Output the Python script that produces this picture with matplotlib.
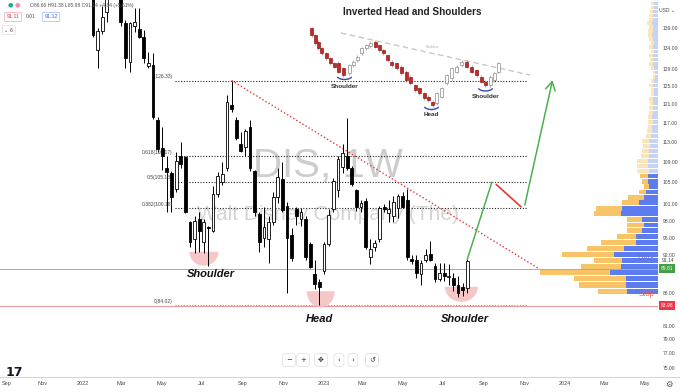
import numpy as np
import pandas as pd
import matplotlib
matplotlib.use("Agg")
import matplotlib.pyplot as plt
import matplotlib.dates as mdates
from matplotlib.ticker import FixedLocator, FixedFormatter, NullLocator
from matplotlib.patches import Polygon, Arc
from matplotlib.transforms import IdentityTransform

plt.rcParams["font.family"] = ["Liberation Sans", "DejaVu Sans"]

W, H = 680, 392

# DIS weekly candles, week of 17 Jan 2022 .. week of 7 Aug 2023
opens = [148.0, 133.5, 138.2, 143.0, 152.0, 148.0, 148.5, 140.2, 130.6, 139.5,
         138.7, 136.8, 129.8, 130.0, 117.7, 111.7, 107.7, 106.9, 103.7, 110.1,
         109.9, 97.7, 94.7, 98.2, 94.3, 96.8, 96.1, 102.8, 105.0, 107.7,
         120.9, 117.7, 112.5, 112.0, 116.2, 107.3, 99.2, 94.9, 94.7, 97.8,
         102.3, 105.6, 100.6, 95.5, 100.0, 98.2, 98.2, 93.9, 89.0, 87.6,
         89.5, 93.9, 100.1, 103.5, 108.0, 110.1, 107.7, 103.5, 100.5, 101.5,
         91.8, 93.4, 94.7, 100.4, 99.4, 98.8, 100.3, 102.5, 101.8, 91.4,
         91.3, 89.0, 91.2, 92.3, 90.2, 88.1, 89.1, 88.4, 88.3, 87.2,
         86.9, 86.66]
highs = [149.5, 139.0, 144.7, 157.0, 156.0, 150.0, 150.0, 141.0, 140.5, 144.2,
         144.0, 138.5, 133.0, 132.8, 118.2, 116.2, 110.1, 107.3, 110.9, 113.0,
         110.1, 98.0, 98.8, 99.6, 98.2, 97.0, 104.3, 107.0, 108.9, 123.1,
         126.33, 118.2, 115.0, 115.6, 117.5, 107.5, 99.6, 100.4, 98.8, 103.2,
         107.7, 109.0, 101.4, 96.6, 100.4, 100.2, 98.8, 94.3, 91.3, 88.1,
         94.3, 100.0, 105.8, 110.1, 112.5, 118.0, 108.2, 103.8, 101.8, 102.1,
         94.7, 94.6, 100.6, 100.9, 101.8, 102.5, 102.8, 103.2, 103.7, 92.0,
         92.0, 91.3, 93.0, 94.4, 90.8, 90.8, 90.8, 90.5, 89.1, 88.6,
         87.5, 91.38]
lows = [136.8, 129.3, 137.5, 140.5, 147.5, 146.8, 139.5, 129.3, 128.4, 138.0,
        136.5, 130.4, 129.3, 117.8, 110.9, 107.5, 99.6, 99.6, 103.2, 107.7,
        99.4, 93.4, 92.4, 92.6, 92.4, 90.2, 96.0, 102.3, 104.6, 107.3,
        119.4, 113.5, 110.9, 110.1, 107.3, 98.8, 92.6, 93.4, 90.8, 97.2,
        101.2, 99.6, 86.0, 91.0, 97.2, 97.0, 91.3, 89.9, 86.5, 84.02,
        88.9, 93.5, 99.6, 102.2, 106.8, 107.5, 104.3, 99.7, 99.5, 93.1,
        90.5, 92.8, 94.3, 99.6, 97.7, 97.7, 98.5, 100.2, 91.3, 90.5,
        88.3, 87.2, 90.9, 91.0, 87.6, 87.8, 87.8, 87.2, 86.2, 85.3,
        85.5, 85.98]
closes = [137.2, 138.2, 141.8, 152.0, 148.5, 148.5, 140.5, 131.7, 140.2, 140.5,
          136.8, 131.7, 130.3, 118.2, 111.5, 110.1, 107.0, 102.3, 109.1, 108.5,
          99.6, 94.3, 97.9, 96.1, 97.7, 96.6, 102.8, 106.2, 106.6, 121.4,
          119.9, 113.9, 111.1, 115.2, 107.7, 99.6, 94.3, 96.9, 97.8, 102.2,
          106.0, 99.8, 94.9, 91.6, 98.8, 99.6, 91.8, 90.1, 87.3, 86.9,
          93.9, 99.0, 105.3, 109.5, 110.8, 107.7, 104.8, 100.5, 101.2, 93.4,
          93.0, 94.1, 100.2, 100.1, 100.0, 101.4, 102.5, 100.5, 91.8, 91.0,
          89.1, 90.8, 92.0, 91.3, 88.1, 89.1, 88.6, 88.6, 87.2, 85.9,
          86.4, 91.14]
weeks = pd.date_range("2022-01-17", periods=len(opens), freq="W-MON")

# visible range volume profile (price row, up volume, down volume)
vp_price = [86.2, 87.2, 88.2, 89.2, 90.2, 91.2, 92.2, 93.2, 94.2, 95.2,
            96.2, 97.2, 98.2, 99.2, 100.2, 101.2, 102.2, 103.2, 104.2, 105.2,
            106.2, 107.2, 108.2, 109.2, 110.2, 111.2, 112.2, 113.2, 114.2, 115.2,
            116.2, 117.2, 118.2, 119.2, 120.2, 121.2, 122.2, 123.2, 124.2, 125.2,
            126.2, 127.2, 128.2, 129.2, 130.2, 131.2, 132.2, 133.2, 134.2, 135.2,
            136.2, 137.2, 138.2, 139.2, 140.2, 141.2, 142.2, 143.2, 144.2, 145.2]
vp_up = [31, 32, 32, 48, 37, 36, 44, 34, 22, 22,
         16, 14, 16, 37, 36, 19, 14, 12, 9, 10,
         10, 9, 10, 10, 9, 9, 8, 9, 7, 6,
         6, 5, 6, 5, 5, 5, 5, 4, 4, 5,
         4, 3, 3, 4, 5, 5, 5, 4, 5, 4,
         5, 6, 5, 5, 6, 5, 5, 5, 4, 4]
vp_down = [29, 47, 52, 70, 40, 28, 52, 37, 35, 19,
           15, 17, 15, 27, 26, 17, 16, 7, 5, 6,
           8, 12, 11, 11, 8, 7, 7, 7, 5, 5,
           4, 5, 4, 4, 4, 3, 4, 3, 3, 4,
           3, 2, 2, 3, 4, 3, 4, 3, 4, 3,
           4, 4, 5, 4, 5, 4, 4, 3, 3, 3]
value_area_top = 107.0

price_ticks = [139, 134, 129, 125, 121, 117, 113, 109, 105, 101, 98, 95, 92,
               86, 81, 79, 77, 75]
month_ticks = ["2021-09-01", "2021-11-01", "2022-01-01", "2022-03-01", "2022-05-01",
               "2022-07-01", "2022-09-01", "2022-11-01", "2023-01-01", "2023-03-01",
               "2023-05-01", "2023-07-01", "2023-09-01", "2023-11-01", "2024-01-01",
               "2024-03-01", "2024-05-01"]
month_labels = ["Sep", "Nov", "2022", "Mar", "May", "Jul", "Sep", "Nov", "2023",
                "Mar", "May", "Jul", "Sep", "Nov", "2024", "Mar", "May"]

fib_levels = ["1", "0.618", "0.5", "0.382", "0"]
fib_prices = [126.33, 110.17, 105.18, 100.18, 84.02]
fib_span = ["2022-05-22", "2023-11-05"]

trend_dates = ["2022-08-15", "2023-11-22"]
trend_prices = [126.33, 89.9]
up_leg_dates = ["2023-08-07", "2023-09-13"]
up_leg_prices = [91.38, 105.0]
pullback_dates = ["2023-09-20", "2023-10-27"]
pullback_prices = [104.6, 100.5]
target_dates = ["2023-11-02", "2023-12-14"]
target_prices = [100.8, 126.4]

entry_price = 89.81
stop_price = 83.98
last_price = 91.14

pattern_names = ["Shoulder", "Head", "Shoulder"]
pattern_dates = ["2022-07-15", "2022-12-26", "2023-08-04"]
pattern_label_prices = [88.9, 81.9, 82.0]
bowl_dates = ["2022-07-04", "2022-12-28", "2023-07-29"]
bowl_top = [92.6, 86.2, 86.9]

# small pasted illustration (inverted head & shoulders)
mini_x = [311.7, 315.0, 318.3, 321.7, 326.0, 330.0, 334.0, 338.3, 343.3,
          349.0, 353.3, 357.3, 361.7, 366.0, 370.0,
          375.0, 379.3, 383.3, 387.7, 391.7, 396.7, 401.0, 406.0, 410.0, 415.0,
          419.3, 424.0, 428.3, 432.7,
          436.7, 441.7, 446.7, 451.7, 456.7, 461.7,
          466.7, 471.7, 476.7, 481.0, 485.0,
          490.0, 494.0, 498.3]
mini_open = [28.3, 35.0, 41.7, 48.3, 53.3, 58.3, 63.3, 62.7, 68.3,
             73.3, 65.0, 60.0, 53.3, 48.3, 46.0,
             41.7, 45.0, 50.0, 55.0, 61.7, 63.3, 66.7, 71.7, 76.7, 85.0,
             88.3, 93.3, 96.7, 101.7,
             103.3, 96.7, 83.3, 78.3, 71.7, 65.0,
             61.7, 66.7, 70.0, 76.7, 81.7,
             85.0, 80.0, 71.7]
mini_close = [35.0, 43.3, 48.3, 53.3, 58.3, 63.3, 66.7, 71.7, 75.0,
              65.0, 61.7, 56.7, 48.3, 45.0, 42.7,
              46.7, 50.0, 53.3, 60.0, 65.0, 68.3, 73.3, 80.0, 83.3, 90.0,
              93.3, 98.3, 100.0, 105.0,
              93.3, 88.3, 75.0, 68.3, 66.7, 61.7,
              66.7, 71.7, 75.0, 81.7, 85.0,
              76.7, 73.3, 63.3]


def fpx(x, y):
    return x / W, 1 - y / H


fig = plt.figure(figsize=(W / 100, H / 100), dpi=100)
ax = fig.add_axes([0, 15 / H, 658 / W, 377 / H])
ax.set_yscale("log")
x0 = mdates.datestr2num("2022-01-03")
xlim = (x0 - 18.1 * 7, x0 + 124.25 * 7)
ylim = (73.78, 146.2)

o = np.array(opens)
c = np.array(closes)
xs = mdates.date2num(weeks.to_pydatetime())
up = c >= o
ax.vlines(xs, lows, highs, color="black", lw=0.7, zorder=3)
ax.bar(xs, np.maximum(np.abs(c - o), 0.12), bottom=np.minimum(o, c), width=4.2,
       color=["white" if u else "black" for u in up], edgecolor="black",
       linewidth=0.6, zorder=4)

# watermark
ax.text(*fpx(328, 166), "DIS, 1W", transform=fig.transFigure, fontsize=29,
        color="#cdcdcd", ha="center", va="center", zorder=0)
ax.text(*fpx(328, 215), "Walt Disney Company (The)", transform=fig.transFigure,
        fontsize=15, color="#d4d4d4", ha="center", va="center", zorder=0)

# fib retracement
fs = mdates.datestr2num(fib_span)
for lvl, p in zip(fib_levels, fib_prices):
    col = "#e57373" if lvl == "0" else "#222222"
    ax.plot(fs, [p, p], color=col, lw=0.8, ls=(0, (1, 1.5)), zorder=2)
    ax.annotate(f"{lvl}({p:.2f})", (fs[0], p), xytext=(-2, 0.8),
                textcoords="offset points", ha="right", va="bottom",
                fontsize=3.6, color="#444444")

# entry / stop lines
ax.axhline(entry_price, color="#81c784", lw=0.7, zorder=1)
ax.axhline(stop_price, color="#ef9a9a", lw=0.8, zorder=1)

# down trend line
ax.plot(mdates.datestr2num(trend_dates), trend_prices, color="#e53935", lw=1.0,
        ls=(0, (1, 1.6)), zorder=2)

# projected path
ax.plot(mdates.datestr2num(up_leg_dates), up_leg_prices, color="#4caf50", lw=1.1, zorder=5)
ax.plot(mdates.datestr2num(pullback_dates), pullback_prices, color="#e53935", lw=1.2, zorder=5)
td = mdates.datestr2num(target_dates)
ax.annotate("", xy=(td[1], target_prices[1]), xytext=(td[0], target_prices[0]),
            arrowprops=dict(arrowstyle="->,head_length=0.6,head_width=0.35",
                            color="#4caf50", lw=1.1, shrinkA=0, shrinkB=0), zorder=5)

for name, d, p in zip(pattern_names, pattern_dates, pattern_label_prices):
    ax.text(mdates.datestr2num(d), p, name, fontsize=8, fontweight="bold",
            fontstyle="italic", ha="center", va="center", color="#111111", zorder=6)

ax.yaxis.tick_right()
ax.yaxis.set_major_locator(FixedLocator(price_ticks))
ax.yaxis.set_major_formatter(FixedFormatter([f"{p:.2f}" for p in price_ticks]))
ax.yaxis.set_minor_locator(NullLocator())
ax.set_xticks(mdates.datestr2num(month_ticks))
ax.set_xticklabels(month_labels)
ax.tick_params(axis="y", length=0, pad=3.5, labelsize=3.6, labelcolor="#4a4a4a")
ax.tick_params(axis="x", length=0, pad=3, labelsize=4, labelcolor="#4a4a4a")
ax.get_xticklabels()[0].set_horizontalalignment("left")
for s in ax.spines.values():
    s.set_visible(False)

# volume profile on a twin axis, bars growing leftwards from the price scale
vp = ax.twiny()
vp.set_xlim(658, 0)
vp.set_autoscaley_on(False)
for p, b, s in zip(vp_price, vp_up, vp_down):
    inside = p <= value_area_top
    vp.barh(p, b, height=0.85, left=0, color="#5c7cf0" if inside else "#c6d3f8", lw=0)
    vp.barh(p, s, height=0.85, left=b, color="#f8c467" if inside else "#fbe4b8", lw=0)
vp.text(4, entry_price * 1.013, "Entry", fontsize=5, color="#6b6fc4", ha="right", va="bottom")
vp.text(4, stop_price * 1.013, "Stop", fontsize=5.5, color="#ef5350", ha="right", va="bottom")
vp.set_xticks([])
for s in vp.spines.values():
    s.set_visible(False)

ax.set_xlim(*xlim)
ax.set_ylim(*ylim)

# pink bowls under the three lows, built in pixel space
for d, p, rx, dep in zip(bowl_dates, bowl_top, [14.5, 14, 16.5], [14, 16, 15]):
    cx, cy = ax.transData.transform((mdates.datestr2num(d), p))
    t = np.linspace(0, np.pi, 40)
    pts = np.column_stack([cx + rx * np.cos(t), cy - dep * np.sin(t)])
    ax.add_patch(Polygon(pts, closed=True, transform=IdentityTransform(),
                         facecolor="#f6bcbc", edgecolor="none", alpha=0.85, zorder=2))

# right scale special labels
yt = ax.get_yaxis_transform()
ax.text(1.004, stop_price, "83.98", transform=yt, fontsize=3.6, color="white",
        ha="left", va="center", clip_on=False,
        bbox=dict(boxstyle="square,pad=0.35", fc="#f23645", ec="none"))
ax.text(1.004, entry_price, "89.81", transform=yt, fontsize=3.6, color="white",
        ha="left", va="center", clip_on=False,
        bbox=dict(boxstyle="square,pad=0.35", fc="#43a047", ec="none"))
ax.text(1.006, last_price, f"{last_price:.2f}", transform=yt, fontsize=3.6,
        color="#4a4a4a", ha="left", va="center", clip_on=False)

# time scale separator and chrome
fig.add_artist(plt.Line2D([0, 1], [15 / H, 15 / H], color="#d6d6d6", lw=0.8))
fig.text(*fpx(667, 10), "USD ⌄", fontsize=3.6, color="#4a4a4a", ha="center", va="center",
         family=["Liberation Sans", "DejaVu Sans"])
fig.text(*fpx(669, 384), "⚙", fontsize=6, color="#555555", ha="center", va="center",
         family="DejaVu Sans")
fig.text(*fpx(14, 372), "17", fontsize=9, fontweight="heavy", color="#131722",
         ha="center", va="center", family="DejaVu Sans")
for gx, sym in zip([289, 303, 321, 339, 353, 372], ["−", "+", "✥", "‹", "›", "↺"]):
    fig.text(*fpx(gx, 360), sym, fontsize=5, color="#333333", ha="center", va="center",
             family=["DejaVu Sans", "Noto Sans", "DejaVu Sans Mono"],
             bbox=dict(boxstyle="round,pad=0.5,rounding_size=0.4", fc="white",
                       ec="#e3e3e3", lw=0.6))

# legend in the top left
fig.text(*fpx(10, 5), "●", fontsize=4.5, color="#26a69a", ha="center", va="center",
         family="DejaVu Sans")
fig.text(*fpx(17, 5), "●", fontsize=4.5, color="#f48fb1", ha="center", va="center",
         family="DejaVu Sans")
fig.text(*fpx(30, 5), "O86.66 H91.38 L85.98 C91.14 +4.84 (+5.61%)", fontsize=3.6,
         color="#555555", ha="left", va="center")
fig.text(*fpx(13, 17), "91.11", fontsize=3.8, color="#f23645", ha="center", va="center",
         bbox=dict(boxstyle="round,pad=0.4,rounding_size=0.3", fc="white", ec="#f5a3aa", lw=0.5))
fig.text(*fpx(31, 17), "0.01", fontsize=3.6, color="#555555", ha="center", va="center")
fig.text(*fpx(51, 17), "91.12", fontsize=3.8, color="#2962ff", ha="center", va="center",
         bbox=dict(boxstyle="round,pad=0.4,rounding_size=0.3", fc="white", ec="#9db5ff", lw=0.5))
fig.text(*fpx(9, 30), "⌄ 6", fontsize=3.6, color="#555555", ha="center", va="center",
         family="DejaVu Sans",
         bbox=dict(boxstyle="round,pad=0.4,rounding_size=0.3", fc="white", ec="#dddddd", lw=0.5))

# pasted illustration
ins = fig.add_axes([300 / W, 1 - 120 / H, 240 / W, 120 / H])
ins.set_xlim(300, 540)
ins.set_ylim(120, 0)
ins.axis("off")
mo = np.array(mini_open)
mc = np.array(mini_close)
red = mc > mo
ins.plot([341, 530], [33, 75], color="#c8c8c8", lw=1.0, ls=(0, (4, 2.5)), zorder=1)
ins.vlines(mini_x, np.minimum(mo, mc) - 1.5, np.maximum(mo, mc) + 1.5,
           color="#777777", lw=0.4, zorder=2)
ins.bar(mini_x, np.abs(mc - mo), bottom=np.minimum(mo, mc), width=3.0,
        color=["#c62828" if r else "white" for r in red],
        edgecolor=["#8e1b1b" if r else "#8a8a8a" for r in red], linewidth=0.5, zorder=3)
ins.text(412, 12, "Inverted Head and Shoulders", fontsize=7.2, fontweight="bold",
         color="#222222", ha="center", va="center")
ins.text(432, 47, "Neckline", fontsize=2.5, color="#aaaaaa", ha="center", va="center")
for cx, cy, lab, ly in [(344.5, 75, "Shoulder", 86), (431.5, 105, "Head", 115),
                        (485.5, 86.5, "Shoulder", 97)]:
    ins.add_patch(Arc((cx, cy), 16, 9, theta1=15, theta2=165, color="#3949ab", lw=1.0))
    ins.text(cx, ly, lab, fontsize=4.6, fontweight="bold", color="#333333",
             ha="center", va="center")

fig.savefig("out.png", dpi=100)
